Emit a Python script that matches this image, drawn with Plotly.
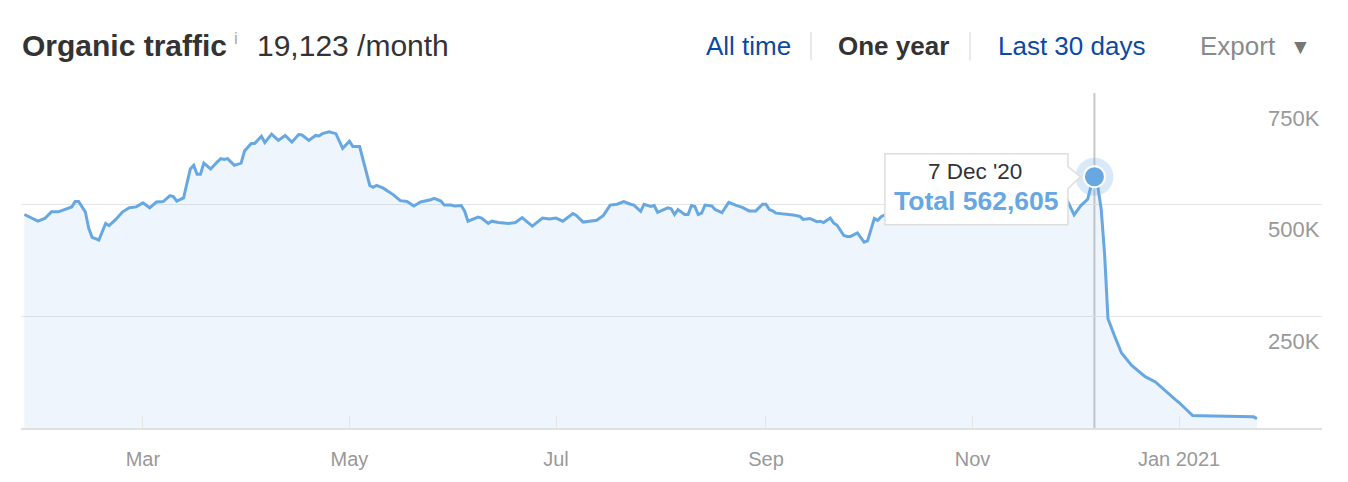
import datetime as dt
import plotly.graph_objects as go

# ---------------- data ----------------
dates = [
    "2020-01-26", "2020-01-28", "2020-01-30", "2020-02-01", "2020-02-03", "2020-02-05",
    "2020-02-08", "2020-02-09", "2020-02-10", "2020-02-11", "2020-02-13", "2020-02-14",
    "2020-02-15", "2020-02-17", "2020-02-19", "2020-02-20", "2020-02-22", "2020-02-24",
    "2020-02-26", "2020-02-28", "2020-03-01", "2020-03-03", "2020-03-05", "2020-03-07",
    "2020-03-09", "2020-03-10", "2020-03-11", "2020-03-13", "2020-03-15", "2020-03-16",
    "2020-03-17", "2020-03-18", "2020-03-19", "2020-03-21", "2020-03-23", "2020-03-24",
    "2020-03-25", "2020-03-26", "2020-03-28", "2020-03-30", "2020-03-31", "2020-04-02",
    "2020-04-03", "2020-04-05", "2020-04-06", "2020-04-08", "2020-04-10", "2020-04-12",
    "2020-04-14", "2020-04-16", "2020-04-17", "2020-04-19", "2020-04-21", "2020-04-22",
    "2020-04-23", "2020-04-25", "2020-04-27", "2020-04-29", "2020-05-01", "2020-05-02",
    "2020-05-04", "2020-05-07", "2020-05-08", "2020-05-09", "2020-05-11", "2020-05-14",
    "2020-05-16", "2020-05-18", "2020-05-20", "2020-05-22", "2020-05-25", "2020-05-26",
    "2020-05-28", "2020-05-29", "2020-05-31", "2020-06-01", "2020-06-03", "2020-06-04",
    "2020-06-05", "2020-06-08", "2020-06-09", "2020-06-11", "2020-06-12", "2020-06-14",
    "2020-06-17", "2020-06-19", "2020-06-21", "2020-06-24", "2020-06-27", "2020-06-29",
    "2020-07-01", "2020-07-03", "2020-07-06", "2020-07-07", "2020-07-09", "2020-07-12",
    "2020-07-13", "2020-07-15", "2020-07-17", "2020-07-19", "2020-07-21", "2020-07-23",
    "2020-07-24", "2020-07-26", "2020-07-27", "2020-07-29", "2020-07-30", "2020-07-31",
    "2020-08-03", "2020-08-04", "2020-08-05", "2020-08-06", "2020-08-08", "2020-08-09",
    "2020-08-10", "2020-08-11", "2020-08-12", "2020-08-13", "2020-08-14", "2020-08-16",
    "2020-08-17", "2020-08-19", "2020-08-21", "2020-08-23", "2020-08-25", "2020-08-27",
    "2020-08-29", "2020-08-31", "2020-09-01", "2020-09-02", "2020-09-03", "2020-09-04",
    "2020-09-07", "2020-09-09", "2020-09-11", "2020-09-12", "2020-09-14", "2020-09-16",
    "2020-09-17", "2020-09-18", "2020-09-20", "2020-09-21", "2020-09-22", "2020-09-24",
    "2020-09-25", "2020-09-26", "2020-09-28", "2020-09-30", "2020-10-01", "2020-10-03",
    "2020-10-04", "2020-10-05", "2020-10-08", "2020-10-11", "2020-10-14", "2020-10-17",
    "2020-10-20", "2020-10-23", "2020-10-26", "2020-10-29", "2020-11-01", "2020-11-04",
    "2020-11-07", "2020-11-10", "2020-11-13", "2020-11-16", "2020-11-19", "2020-11-22",
    "2020-11-25", "2020-11-29", "2020-12-01", "2020-12-03", "2020-12-05", "2020-12-06",
    "2020-12-07", "2020-12-08", "2020-12-09", "2020-12-10", "2020-12-11", "2020-12-13",
    "2020-12-15", "2020-12-18", "2020-12-22", "2020-12-25", "2020-12-28", "2020-12-31",
    "2021-01-01", "2021-01-05", "2021-01-11", "2021-01-19", "2021-01-23", "2021-01-24",
]
traffic = [
    478000, 471000, 463000, 469000, 484000, 484000,
    492000, 495000, 507000, 507000, 484000, 447000,
    427000, 421000, 458000, 453000, 467000, 484000,
    493000, 495000, 504000, 493000, 506000, 507000,
    520000, 518000, 508000, 515000, 580000, 588000,
    568000, 568000, 593000, 580000, 596000, 603000,
    601000, 603000, 588000, 593000, 620000, 637000,
    637000, 653000, 639000, 658000, 644000, 655000,
    640000, 657000, 656000, 644000, 655000, 654000,
    659000, 663000, 659000, 626000, 642000, 630000,
    630000, 543000, 539000, 543000, 537000, 522000,
    509000, 507000, 497000, 506000, 511000, 514000,
    508000, 499000, 499000, 497000, 498000, 486000,
    463000, 472000, 470000, 458000, 463000, 460000,
    458000, 460000, 471000, 452000, 470000, 468000,
    470000, 463000, 480000, 476000, 461000, 465000,
    465000, 476000, 499000, 501000, 507000, 501000,
    499000, 485000, 501000, 496000, 498000, 483000,
    493000, 491000, 478000, 489000, 478000, 478000,
    498000, 496000, 478000, 481000, 499000, 497000,
    489000, 482000, 505000, 499000, 494000, 486000,
    486000, 501000, 501000, 489000, 486000, 481000,
    479000, 477000, 474000, 467000, 469000, 462000,
    463000, 460000, 470000, 459000, 454000, 431000,
    429000, 429000, 437000, 416000, 419000, 469000,
    465000, 473000, 484000, 490000, 485000, 495000,
    488000, 500000, 492000, 498000, 505000, 495000,
    502000, 497000, 505000, 498000, 503000, 495000,
    500000, 509000, 477000, 498000, 512000, 542000,
    562605, 540000, 490000, 390000, 245000, 205000,
    168000, 140000, 115000, 103000, 82000, 63000,
    57000, 28000, 27000, 25500, 25000, 21000,
]

month_ticks = ["2020-03-01", "2020-05-01", "2020-07-01", "2020-09-01", "2020-11-01", "2021-01-01"]
month_labels = ["Mar", "May", "Jul", "Sep", "Nov", "Jan 2021"]
y_ticks = [0, 250000, 500000, 750000]
y_labels = ["", "250K", "500K", "750K"]

hover_date = "2020-12-07"
hover_value = traffic[dates.index(hover_date)]

title_text = "Organic traffic"
metric_text = "19,123 /month"
nav_items = ["All time", "One year", "Last 30 days", "Export"]

# ---------------- style ----------------
FONT = "Arial, Liberation Sans, sans-serif"
LINE = "#68a8e2"
FILL = "rgba(104,168,226,0.11)"
GRID = "#e6e6e6"
LINK = "#0b4aa2"
DARK = "#333333"
GREY = "#999999"

# page body has an 8px margin: compensate so the page picture lines up
OFF = 8
W, H = 1348 - OFF, 482 - OFF
PL, PR, PT, PB = 21, 1322, 93, 432          # plot-area edges on the page
ML, MT = PL - OFF, PT - OFF
MR, MB = W - (PR - OFF), H - (PB - OFF)
PW, PH = PR - PL, PB - PT


def px(x):
    return (x - PL) / PW


def py(y):
    return (PB - y) / PH


fig = go.Figure()
fig.add_trace(go.Scatter(
    x=dates, y=traffic, mode="lines",
    line=dict(color=LINE, width=3),
    fill="tozeroy", fillcolor=FILL, hoverinfo="skip", showlegend=False,
))
fig.add_trace(go.Scatter(
    x=[hover_date], y=[hover_value], mode="markers",
    marker=dict(size=38, color="rgba(104,168,226,0.25)", line=dict(width=0)),
    hoverinfo="skip", showlegend=False,
))
fig.add_trace(go.Scatter(
    x=[hover_date], y=[hover_value], mode="markers",
    marker=dict(size=21, color=LINE, line=dict(color="white", width=2)),
    hoverinfo="skip", showlegend=False,
))

shapes = []
shapes.append(dict(type="line", xref="x", yref="paper", x0=hover_date, x1=hover_date,
                   y0=0, y1=1, line=dict(color="#c9c9c9", width=2), layer="below"))
shapes.append(dict(
    type="path", xref="x", yref="y", xsizemode="pixel", ysizemode="pixel",
    xanchor=hover_date, yanchor=hover_value,
    path="M -209.5,23 L -26.5,23 L -26.5,10 L -14,0 L -26.5,-12 L -26.5,-48 L -209.5,-48 Z",
    fillcolor="white", line=dict(color="#dedede", width=1.5), layer="above",
))
for sx in (811, 970):
    shapes.append(dict(type="line", xref="paper", yref="paper", x0=px(sx), x1=px(sx),
                       y0=py(31), y1=py(60), line=dict(color="#e3e3e3", width=1.5)))

annotations = []
for v, lab in zip(y_ticks, y_labels):
    if lab:
        annotations.append(dict(x=1, xref="paper", xanchor="right", y=v, yref="y",
                                yanchor="middle", yshift=-25, text=lab, showarrow=False,
                                font=dict(family=FONT, size=22, color=GREY)))

d = dt.datetime.strptime(hover_date, "%Y-%m-%d")
annotations.append(dict(x=hover_date, y=hover_value, xref="x", yref="y",
                        xshift=-119, yshift=5, text=f"{d.day} {d:%b} '{d:%y}",
                        showarrow=False, font=dict(family=FONT, size=22.5, color=DARK)))
annotations.append(dict(x=hover_date, y=hover_value, xref="x", yref="y",
                        xshift=-118, yshift=-24, text=f"<b>Total {hover_value:,}</b>",
                        showarrow=False, font=dict(family=FONT, size=26.5, color=LINE)))


def head(text, x, size, color, anchor="left", y=45):
    annotations.append(dict(x=px(x), y=py(y), xref="paper", yref="paper", xanchor=anchor,
                            yanchor="middle", text=text, showarrow=False,
                            font=dict(family=FONT, size=size, color=color)))


head(f"<b>{title_text}</b>", 20, 30, DARK)
head("i", 232, 17, "#aaaaaa", y=38)
head(metric_text, 255, 30, DARK)
head(nav_items[0], 704, 26, LINK)
head(f"<b>{nav_items[1]}</b>", 836, 26, DARK)
head(nav_items[2], 996, 26, LINK)
head(nav_items[3], 1198, 26, "#8a8a8a")
head("▼", 1300, 21, "#777777", anchor="center", y=46)

fig.update_layout(
    width=W, height=H, autosize=False,
    margin=dict(l=ML, r=MR, t=MT, b=MB, pad=0),
    paper_bgcolor="white", plot_bgcolor="white",
    showlegend=False, hovermode=False,
    shapes=shapes, annotations=annotations,
    font=dict(family=FONT),
)
fig.update_xaxes(
    type="date", range=["2020-01-25", "2021-02-12 05:00"],
    tickvals=month_ticks, ticktext=month_labels,
    ticks="inside", ticklen=12, tickwidth=1, tickcolor=GRID,
    showgrid=False, zeroline=False,
    showline=True, linecolor="#e0e0e0", linewidth=2,
    tickfont=dict(family=FONT, size=20, color=GREY),
    ticklabelstandoff=12, fixedrange=True,
)
fig.update_yaxes(
    range=[0, 750000], tickvals=y_ticks, showticklabels=False,
    showgrid=True, gridcolor=GRID, gridwidth=1, zeroline=False,
    showline=False, fixedrange=True,
)

fig.write_html("out.html")
